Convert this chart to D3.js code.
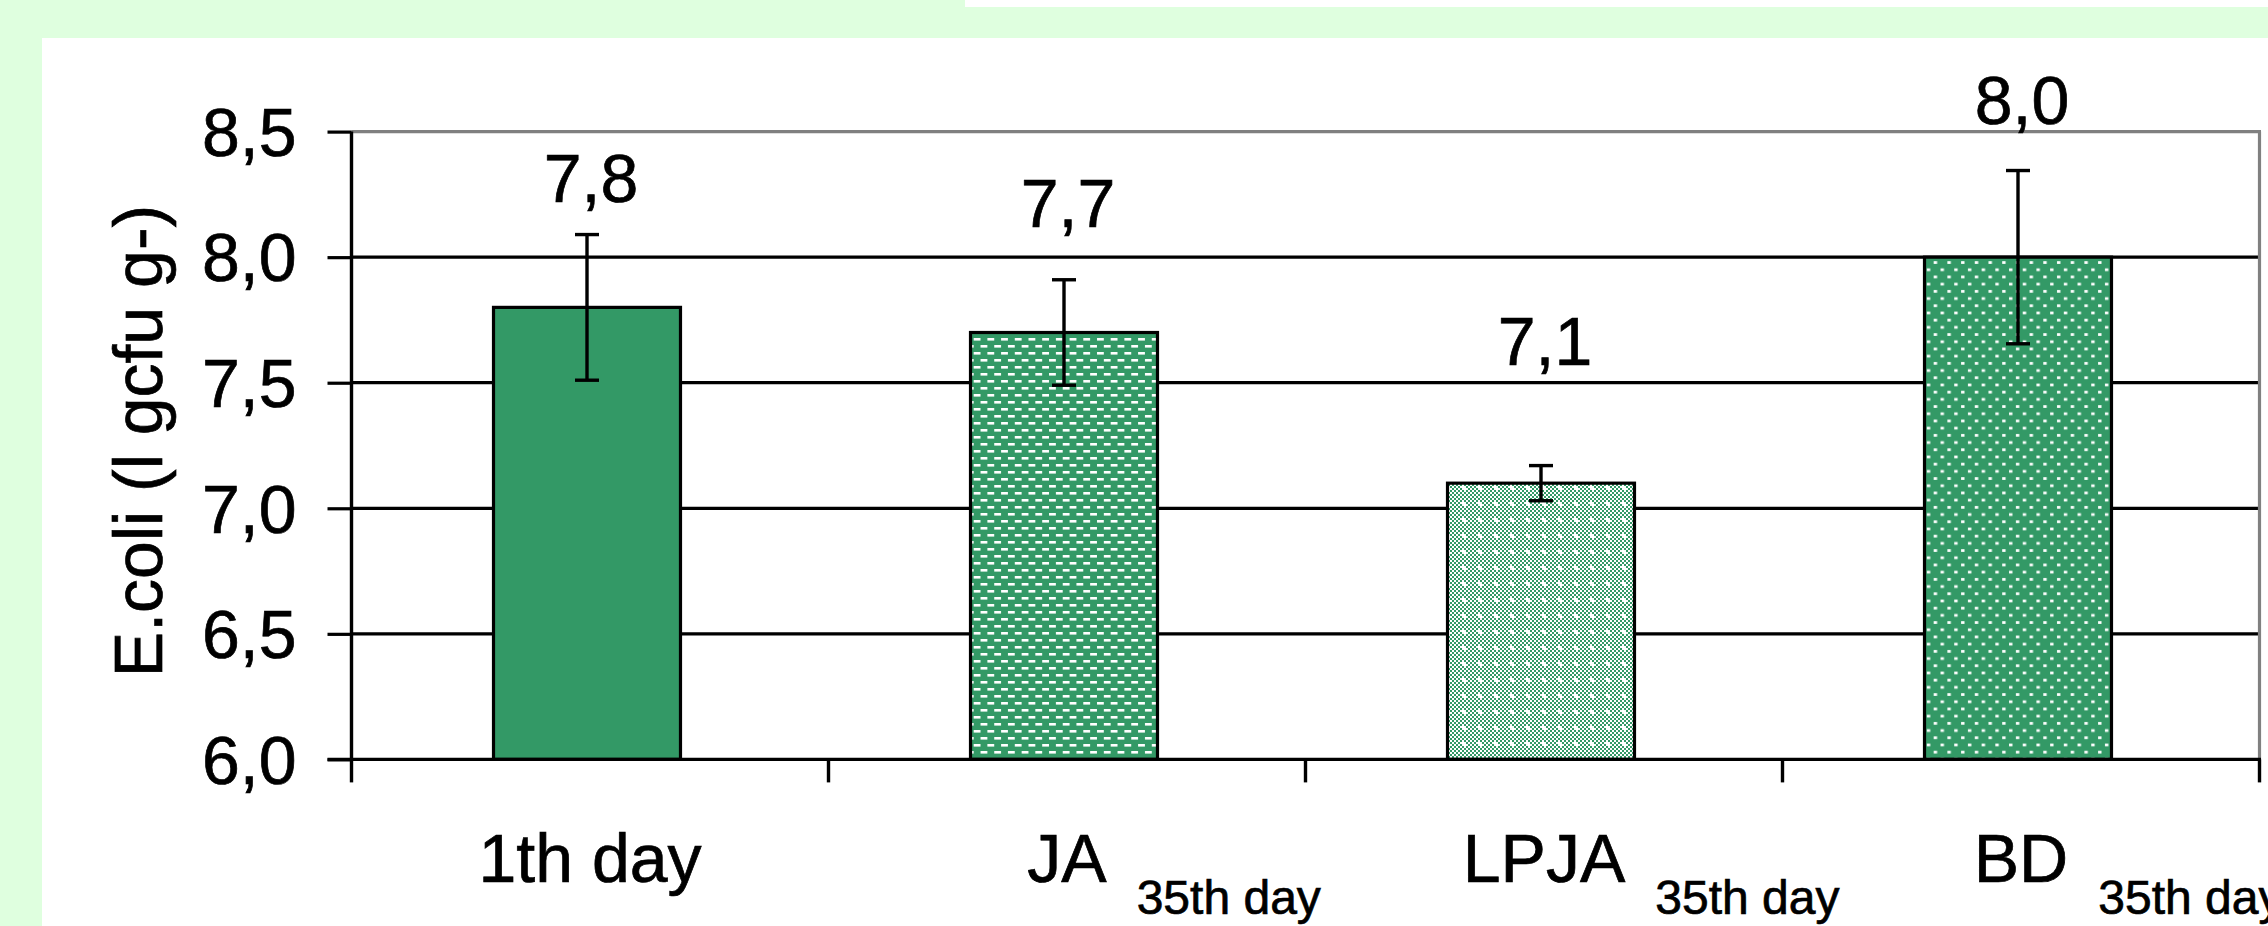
<!DOCTYPE html>
<html>
<head>
<meta charset="utf-8">
<script src="https://cdn.jsdelivr.net/npm/d3@7"></script>
<style>
  html, body { margin: 0; padding: 0; background: #ffffff; overflow: hidden; }
  svg { display: block; }
  text { font-family: "Liberation Sans", Arial, sans-serif; fill: #000; stroke: #000; stroke-width: 0.7px; }
</style>
</head>
<body>
<svg id="chart" width="2268" height="926"></svg>
<script>
// ---- data ----
const categories = ["1th day", "JA", "LPJA", "BD"];
const subLabels = ["", "35th day", "35th day", "35th day"];
const values = [7.8, 7.7, 7.1, 8.0];
const errors = [0.29, 0.21, 0.07, 0.345];
const valueLabels = ["7,8", "7,7", "7,1", "8,0"];
const labelLevels = [8.22, 8.12, 7.57, 8.53];   // value-axis level of each data label's baseline
const yTicks = [6.0, 6.5, 7.0, 7.5, 8.0, 8.5];
const yTitle = "E.coli (l gcfu g-)";
const fills = ["solid", "dash", "check", "dots"];

// ---- layout ----
const W = 2268, H = 926;
const plot = { left: 351.5, right: 2259.5, top: 131.6, bottom: 759.4 };
const green = "#339966";
const font = 68;

const svg = d3.select("#chart");

// backgrounds
svg.append("rect").attr("x", 0).attr("y", 0).attr("width", W).attr("height", H).attr("fill", "#dfffdf");
svg.append("rect").attr("x", 42).attr("y", 38).attr("width", W - 42).attr("height", H - 38).attr("fill", "#ffffff");
svg.append("rect").attr("x", 965).attr("y", 0).attr("width", W - 965).attr("height", 7).attr("fill", "#ffffff");

// patterns
const defs = svg.append("defs");
const pDash = defs.append("pattern").attr("id", "p-dash").attr("patternUnits", "userSpaceOnUse")
  .attr("width", 13.7).attr("height", 14);
pDash.append("rect").attr("width", 13.7).attr("height", 14).attr("fill", green);
pDash.append("rect").attr("x", 1).attr("y", 2).attr("width", 6.8).attr("height", 2.6).attr("fill", "#fff");
pDash.append("rect").attr("x", 7.85).attr("y", 9).attr("width", 6.8).attr("height", 2.6).attr("fill", "#fff");
pDash.append("rect").attr("x", -5.85).attr("y", 9).attr("width", 6.8).attr("height", 2.6).attr("fill", "#fff");

const pDots = defs.append("pattern").attr("id", "p-dots").attr("patternUnits", "userSpaceOnUse")
  .attr("width", 13.7).attr("height", 14.4);
pDots.append("rect").attr("width", 13.7).attr("height", 14.4).attr("fill", green);
pDots.append("rect").attr("x", 2).attr("y", 2).attr("width", 3.4).attr("height", 2.7).attr("fill", "#fff");
pDots.append("rect").attr("x", 8.85).attr("y", 9.2).attr("width", 3.4).attr("height", 2.7).attr("fill", "#fff");

const pCheck = defs.append("pattern").attr("id", "p-check").attr("patternUnits", "userSpaceOnUse")
  .attr("width", 16).attr("height", 16);
pCheck.append("rect").attr("width", 16).attr("height", 16).attr("fill", "#fff");
for (let i = 0; i < 8; i++) {
  for (let j = 0; j < 8; j++) {
    if ((i + j) % 2 === 0) {
      const isSpot = (i >= 3 && i <= 4 && j >= 3 && j <= 4);
      if (!isSpot) pCheck.append("rect").attr("x", i * 2).attr("y", j * 2).attr("width", 2).attr("height", 2).attr("fill", green);
    }
  }
}
const fillUrl = { solid: green, dash: "url(#p-dash)", check: "url(#p-check)", dots: "url(#p-dots)" };

// scales
const x = d3.scaleBand().domain(categories).range([plot.left, plot.right]).paddingInner(0).paddingOuter(0);
const y = d3.scaleLinear().domain([6.0, 8.5]).range([plot.bottom, plot.top]);
const barW = x.bandwidth() * 0.392;
const barCenter = c => x(c) + x.bandwidth() / 2 - 3;

// gridlines (interior)
svg.append("g").selectAll("line").data(yTicks.filter(t => t > 6.0 && t < 8.5)).join("line")
  .attr("x1", plot.left).attr("x2", plot.right)
  .attr("y1", d => y(d)).attr("y2", d => y(d))
  .attr("stroke", "#000").attr("stroke-width", 3.2);

// top and right frame (gray)
svg.append("line").attr("x1", plot.left).attr("x2", plot.right + 1.5).attr("y1", y(8.5)).attr("y2", y(8.5))
  .attr("stroke", "#808080").attr("stroke-width", 3.2);
svg.append("line").attr("x1", plot.right).attr("x2", plot.right).attr("y1", y(8.5)).attr("y2", y(6.0))
  .attr("stroke", "#808080").attr("stroke-width", 3.2);

// bars
const data = categories.map((c, i) => ({ c, v: values[i], e: errors[i], f: fills[i], lab: valueLabels[i], lv: labelLevels[i], sub: subLabels[i] }));
svg.append("g").selectAll("rect").data(data).join("rect")
  .attr("x", d => barCenter(d.c) - barW / 2)
  .attr("width", barW)
  .attr("y", d => y(d.v))
  .attr("height", d => y(6.0) - y(d.v))
  .attr("fill", d => fillUrl[d.f])
  .attr("stroke", "#000").attr("stroke-width", 3.2);

// error bars
const eg = svg.append("g").attr("stroke", "#000").attr("stroke-width", 3.4);
data.forEach(d => {
  const cx = barCenter(d.c);
  eg.append("line").attr("x1", cx).attr("x2", cx).attr("y1", y(d.v + d.e)).attr("y2", y(d.v - d.e));
  eg.append("line").attr("x1", cx - 12).attr("x2", cx + 12).attr("y1", y(d.v + d.e)).attr("y2", y(d.v + d.e));
  eg.append("line").attr("x1", cx - 12).attr("x2", cx + 12).attr("y1", y(d.v - d.e)).attr("y2", y(d.v - d.e));
});

// y axis
const yAxis = d3.axisLeft(y).tickValues(yTicks)
  .tickFormat(d => d.toFixed(1).replace(".", ","))
  .tickSize(24).tickPadding(31);
const yg = svg.append("g").attr("transform", `translate(${plot.left},0)`).call(yAxis);
yg.select(".domain").attr("stroke", "#000").attr("stroke-width", 3.4).attr("d", `M0,${plot.top}V${plot.bottom + 1}`);
yg.selectAll(".tick line").attr("stroke", "#000").attr("stroke-width", 3.2);
yg.selectAll(".tick text").attr("font-size", font).attr("font-family", "Liberation Sans, Arial, sans-serif")
  .attr("dy", "0.35em").attr("fill", "#000");

// x axis line and boundary ticks
svg.append("line").attr("x1", plot.left - 24).attr("x2", plot.right + 1.5).attr("y1", y(6.0)).attr("y2", y(6.0))
  .attr("stroke", "#000").attr("stroke-width", 3.4);
const bounds = categories.map(c => x(c)).concat([x.range()[1]]);
svg.append("g").selectAll("line").data(bounds).join("line")
  .attr("x1", d => d).attr("x2", d => d)
  .attr("y1", y(6.0)).attr("y2", y(6.0) + 23)
  .attr("stroke", "#000").attr("stroke-width", 3.4);

// category labels
const labG = svg.append("g");
data.forEach(d => {
  const cx = x(d.c) + x.bandwidth() / 2;
  const t = labG.append("text").attr("x", cx).attr("y", 882).attr("text-anchor", "middle")
    .attr("font-size", font).text(d.c);
  if (d.sub) {
    const len = t.node().getComputedTextLength();
    labG.append("text").attr("x", cx + len / 2 + 30).attr("y", 914)
      .attr("font-size", 48).text(d.sub);
  }
});

// value labels
svg.append("g").selectAll("text").data(data).join("text")
  .attr("x", d => barCenter(d.c) + 4)
  .attr("y", d => y(d.lv))
  .attr("text-anchor", "middle")
  .attr("font-size", font)
  .text(d => d.lab);

// y title
svg.append("text")
  .attr("transform", `translate(162,441) rotate(-90)`)
  .attr("text-anchor", "middle")
  .attr("font-size", font)
  .text(yTitle);
</script>
</body>
</html>
